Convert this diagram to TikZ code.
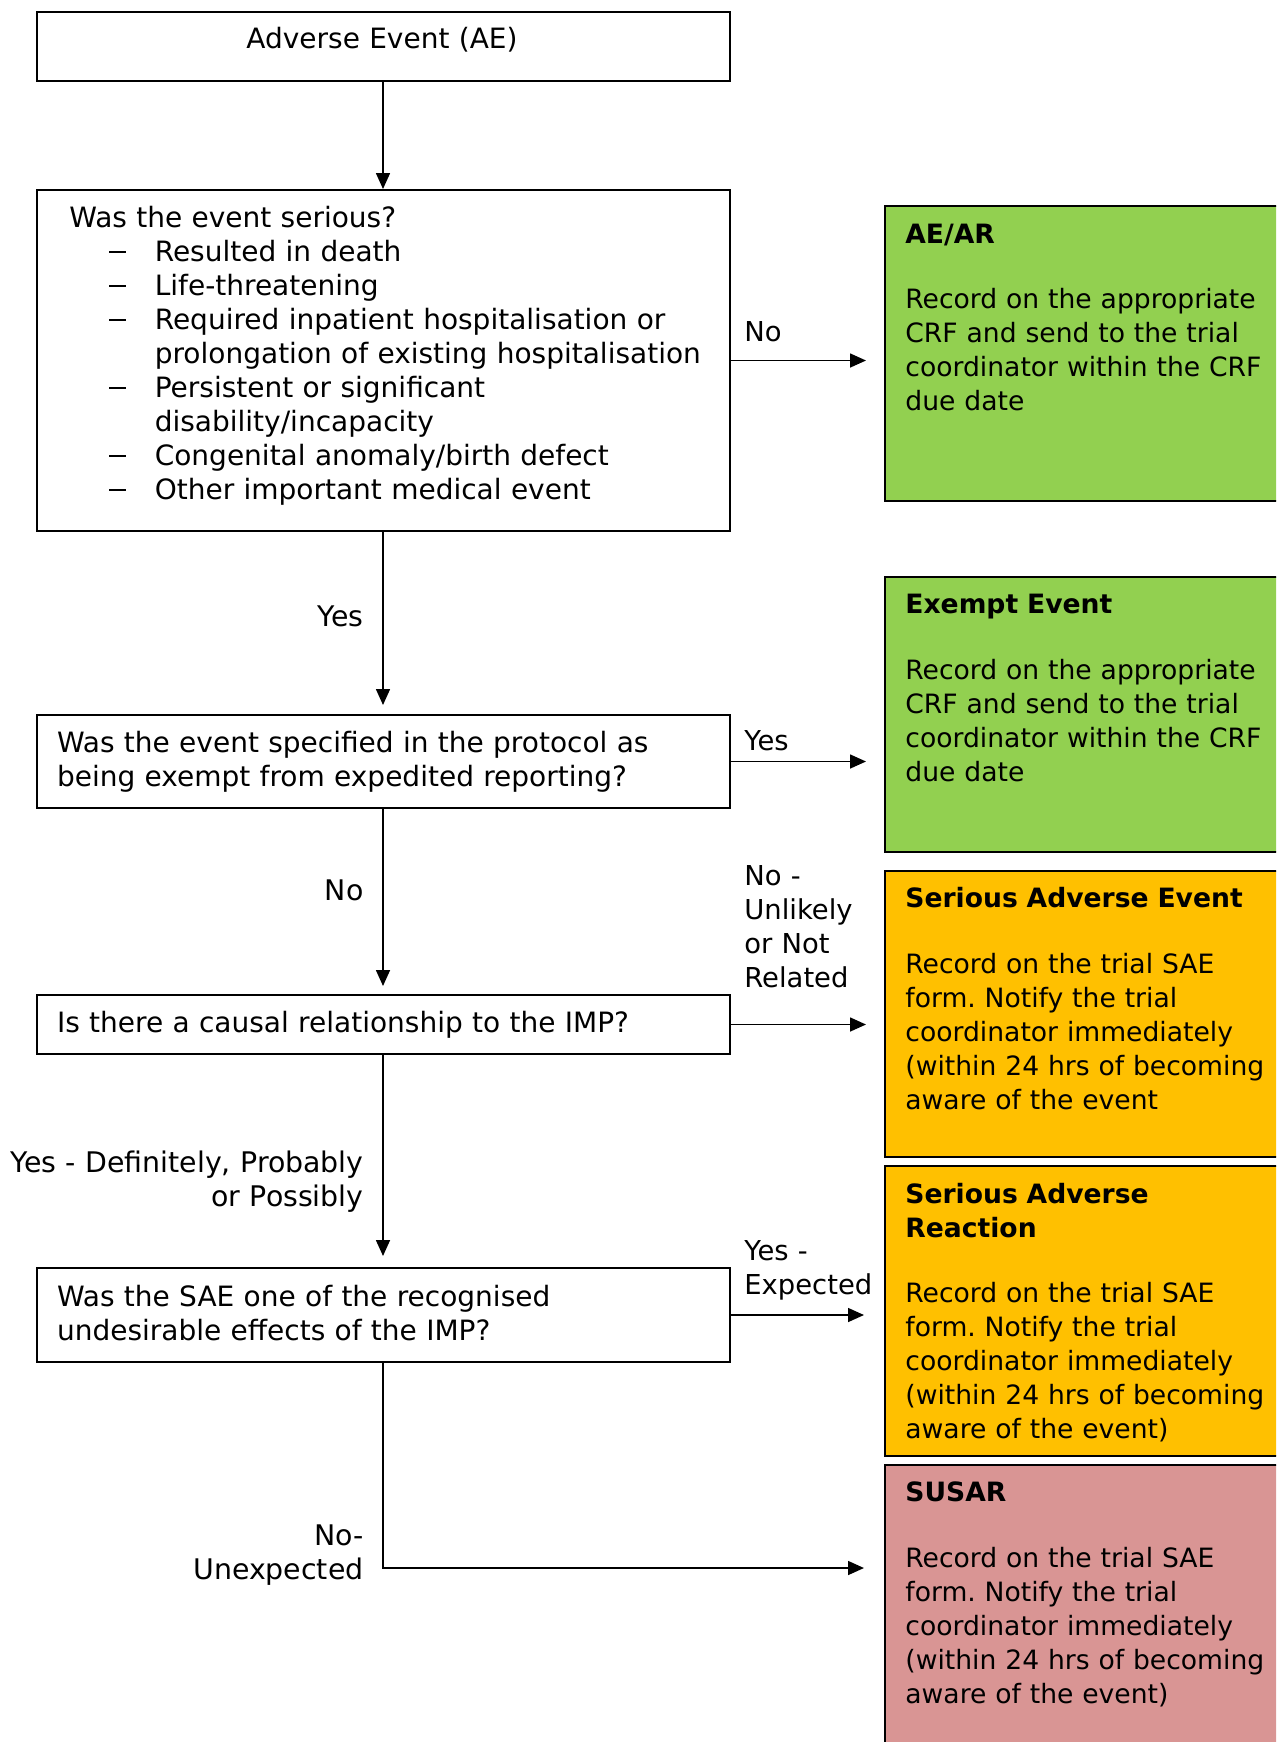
\documentclass[tikz,border=0pt]{standalone}
\usepackage{fontspec}
\setmainfont{DejaVu Sans}
\usetikzlibrary{arrows.meta}
\definecolor{aegreen}{HTML}{92D050}
\definecolor{saeorange}{HTML}{FFC000}
\definecolor{susarpink}{HTML}{D99594}
\newcommand{\adashi}{\hspace*{19.9pt}\makebox[22.8pt][l]{\rule[4pt]{8.3pt}{0.8pt}}}
\newcommand{\acont}{\hspace*{42.7pt}}
\frenchspacing
\begin{document}
\begin{tikzpicture}[x=0.5pt,y=-0.5pt,
  box/.style={draw=black, line width=1pt, rectangle, inner sep=0pt, anchor=north west},
  rbox/.style={box, minimum width=203pt},
  txt/.style={inner sep=0pt, font=\fontsize{13.3pt}{17pt}\selectfont, text width=#1, align=left},
  txt/.default=240pt,
  ltx/.style={inner sep=0pt, font=\fontsize{14pt}{17pt}\selectfont, text width=#1, align=left},
  ltx/.default=360pt,
  lbl/.style={inner sep=0pt, font=\fontsize{13.7pt}{17pt}\selectfont, text width=120pt, align=left, anchor=base west},
  ltxt/.style={inner sep=0pt, font=\fontsize{14.2pt}{17pt}\selectfont, text width=240pt, align=right, anchor=base east},
  arr/.style={-{Triangle[length=8pt,width=7pt]}, line width=0.8pt}
]
\clip (0,0) rectangle (1276,1742);
\fill[white] (0,0) rectangle (1276,1742);

% left boxes
\node[box, minimum width=346.5pt, minimum height=34.5pt] (ae) at (35.5,11) {};
\node[box, minimum width=346.5pt, minimum height=170.5pt] (q1) at (35.5,189) {};
\node[box, minimum width=346.5pt, minimum height=46.5pt] (q2) at (35.5,714) {};
\node[box, minimum width=346.5pt, minimum height=29.5pt] (q3) at (35.5,994) {};
\node[box, minimum width=346.5pt, minimum height=47pt] (q4) at (35.5,1267) {};

% right boxes
\node[rbox, fill=aegreen, minimum height=147.5pt] (aear) at (884,205) {};
\node[rbox, fill=aegreen, minimum height=137.5pt] (exempt) at (884,576) {};
\node[rbox, fill=saeorange, minimum height=143.25pt] (sae) at (884,869.5) {};
\node[rbox, fill=saeorange, minimum height=145pt] (sar) at (884,1165) {};
\node[rbox, fill=susarpink, minimum height=150pt] (susar) at (884,1464) {};

% left texts
\node[ltx, align=center, anchor=base] (aet) at (382,48) {Adverse Event (AE)};
\node[ltx, anchor=base west] (q1t) at (69,227) {Was the event serious?\\
\adashi Resulted in death\\
\adashi Life-threatening\\
\adashi Required inpatient hospitalisation or\\
\acont prolongation of existing hospitalisation\\
\adashi Persistent or significant\\
\acont disability/incapacity\\
\adashi Congenital anomaly/birth defect\\
\adashi Other important medical event};
\node[ltx, anchor=base west] (q2t) at (56.6,752) {Was the event specified in the protocol as\\being exempt from expedited reporting?};
\node[ltx, anchor=base west] (q3t) at (56.6,1032) {Is there a causal relationship to the IMP?};
\node[ltx, anchor=base west] (q4t) at (56.6,1306) {Was the SAE one of the recognised\\undesirable effects of the IMP?};

% right texts
\node[txt, anchor=base west] (aeart) at (905,243) {\textbf{AE/AR}\\[15.5pt]Record on the appropriate\\CRF and send to the trial\\coordinator within the CRF\\due date};
\node[txt, anchor=base west] (exemptt) at (905,613) {\textbf{Exempt Event}\\[16pt]Record on the appropriate\\CRF and send to the trial\\coordinator within the CRF\\due date};
\node[txt, anchor=base west] (saet) at (905,907) {\textbf{Serious Adverse Event}\\[16pt]Record on the trial SAE\\form. Notify the trial\\coordinator immediately\\(within 24 hrs of becoming\\aware of the event};
\node[txt, anchor=base west] (sart) at (905,1203) {\textbf{Serious Adverse}\\\textbf{Reaction}\\[15.5pt]Record on the trial SAE\\form. Notify the trial\\coordinator immediately\\(within 24 hrs of becoming\\aware of the event)};
\node[txt, anchor=base west] (susart) at (905,1501.5) {\textbf{SUSAR}\\[16pt]Record on the trial SAE\\form. Notify the trial\\coordinator immediately\\(within 24 hrs of becoming\\aware of the event)};

% connector labels
\node[lbl] (lno1) at (744,341) {No};
\node[lbl] (lyes2) at (744,750) {Yes};
\node[lbl] (lno3) at (744,885) {No -\\Unlikely\\or Not\\Related};
\node[lbl] (lyes4) at (744,1260) {Yes -\\Expected};
\node[ltxt] (lyes1) at (364,626) {Yes};
\node[ltxt] (lno2) at (364,900) {No};
\node[ltxt] (lyes3) at (364,1172) {Yes - Definitely, Probably\\or Possibly};
\node[ltxt] (lno4) at (364,1545) {No-\\Unexpected};

% connectors
\draw[arr] (ae.south) -- (q1.north);
\draw[arr, shorten >=4.5pt] (q1.south) -- (q2.north);
\draw[arr, shorten >=4pt] (q2.south) -- (q3.north);
\draw[arr, shorten >=5.5pt] (q3.south) -- (q4.north);
\draw[arr, shorten >=9pt] (q1.east) -- (q1.east -| aear.west);
\draw[arr, shorten >=9pt] (q2.east) -- (q2.east -| exempt.west);
\draw[arr, shorten >=9pt] (q3.east) -- (q3.east -| sae.west);
\draw[arr, shorten >=10pt] (q4.east) -- (q4.east -| sar.west);
\coordinate (c5) at (864,1568);
\draw[arr] (q4.south) |- (c5);
\end{tikzpicture}
\end{document}
